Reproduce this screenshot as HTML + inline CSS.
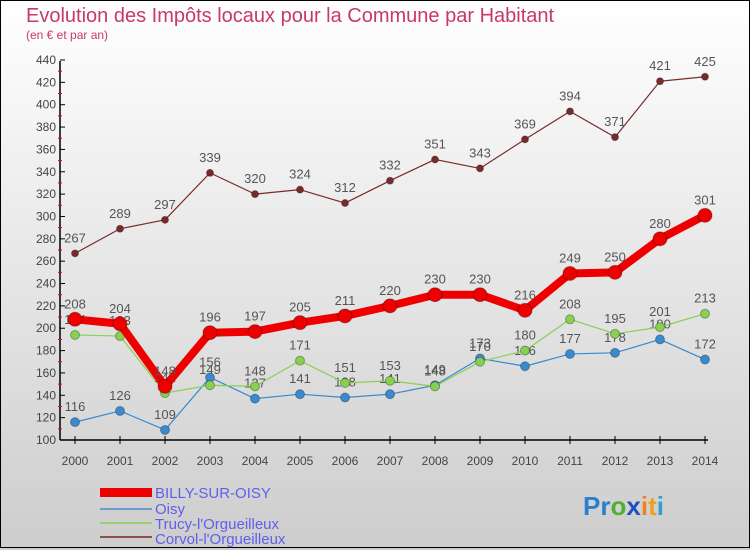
<!DOCTYPE html>
<html><head><meta charset="utf-8"><style>
body{margin:0}
#wrap{width:750px;height:550px;position:relative;overflow:hidden;font-family:"Liberation Sans",sans-serif}
svg text{font-family:"Liberation Sans",sans-serif}
</style></head><body>
<div id="wrap">
<svg id="chart" width="750" height="550">
<defs><linearGradient id="bg" x1="0" y1="0" x2="0" y2="1"><stop offset="0" stop-color="#ffffff"/><stop offset="1" stop-color="#cdcdcd"/></linearGradient></defs>
<rect x="0" y="0" width="750" height="550" fill="url(#bg)"/>
<rect x="0.5" y="0.5" width="749" height="547" fill="none" stroke="#000"/>
<text x="26" y="22" font-size="20" fill="#c8386a">Evolution des Impôts locaux pour la Commune par Habitant</text>
<text x="26" y="39" font-size="12" fill="#c8386a">(en € et par an)</text>
<g id="axes"></g><g id="series"></g>
<g id="legend">
<rect x="100" y="488" width="52" height="9" fill="#e00"/>
<text x="155" y="498" font-size="15" fill="#5f5fee">BILLY-SUR-OISY</text>
<rect x="100" y="508" width="52" height="2" fill="#6a9cc8"/>
<text x="155" y="514" font-size="15" fill="#5f5fee">Oisy</text>
<rect x="100" y="522" width="52" height="2" fill="#9ad070"/>
<text x="155" y="529" font-size="15" fill="#5f5fee">Trucy-l'Orgueilleux</text>
<rect x="100" y="536" width="52" height="2" fill="#8a5050"/>
<text x="155" y="544" font-size="15" fill="#5f5fee">Corvol-l'Orgueilleux</text>
</g>
<g font-size="26" font-weight="bold">
<text x="583" y="515"><tspan fill="#2a7fd0">Pr</tspan><tspan fill="#50b030">o</tspan><tspan fill="#2050c0">x</tspan><tspan fill="#f08020">i</tspan><tspan fill="#f0a020">t</tspan><tspan fill="#30a0d0">i</tspan></text>
</g>
</svg>
</div>
<script>
const years=["2000","2001","2002","2003","2004","2005","2006","2007","2008","2009","2010","2011","2012","2013","2014"];
const billy=[208,204,148,196,197,205,211,220,230,230,216,249,250,280,301];
const oisy=[116,126,109,156,137,141,138,141,149,173,166,177,178,190,172];
const trucy=[194,193,142,149,148,171,151,153,148,170,180,208,195,201,213];
const corvol=[267,289,297,339,320,324,312,332,351,343,369,394,371,421,425];
const yTicks=[100,120,140,160,180,200,220,240,260,280,300,320,340,360,380,400,420,440];
const NS="http://www.w3.org/2000/svg";
const xS=i=>75+i*45;
const yS=v=>440-(v-100)*380/340;
function mk(t,a,p){const e=document.createElementNS(NS,t);for(const k in a)e.setAttribute(k,a[k]);p.appendChild(e);return e;}
const ax=document.getElementById('axes');
let l=mk('line',{x1:60,y1:61,x2:60,y2:440,stroke:'#000','stroke-width':1.5},ax);


l=mk('line',{x1:60,y1:440,x2:708,y2:440,stroke:'#000','stroke-width':1.5},ax);


yTicks.forEach((v,i)=>{
  const y=yS(v);
  mk('line',{x1:60,y1:y,x2:65,y2:y,stroke:'#000'},ax);
  if(i<yTicks.length-1){mk('line',{x1:58,y1:yS(v+10),x2:62,y2:yS(v+10),stroke:'#e00'},ax);}
  const t=mk('text',{x:56,y:y+4,'font-size':12,'text-anchor':'end',fill:'#444'},ax);
  t.textContent=v;
  
  
});
years.forEach((yr,i)=>{
  const x=xS(i);
  mk('line',{x1:x,y1:436,x2:x,y2:444,stroke:'#000'},ax);
  const t=mk('text',{x:x,y:465,'font-size':12,'text-anchor':'middle',fill:'#444'},ax);
  t.textContent=yr;
  
  
});
const sg=document.getElementById('series');
function draw(data,name,color,w,r){
  const g=mk('g',{},sg);
  
  
  const pl=mk('polyline',{points:data.map((v,i)=>xS(i)+','+yS(v)).join(' '),fill:'none',stroke:color,'stroke-width':w,'stroke-linejoin':'round'},g);
  
  
  data.forEach((v,i)=>{
    const c=mk('circle',{cx:xS(i),cy:yS(v),r:r,fill:color,stroke:'rgba(0,0,0,0.3)','stroke-width':1},g);
    
    
    const t=mk('text',{x:xS(i),y:yS(v)-11,'font-size':13,'text-anchor':'middle',fill:'#555'},g);
    t.textContent=v;
    
    
  });
}
draw(corvol,'corvol','#7a2a2a',1.2,3.5);
draw(oisy,'oisy','#3a8ad0',1.2,4.5);
draw(trucy,'trucy','#88d050',1.2,4.5);
draw(billy,'billy','#ee0000',8,7);
</script>
</body></html>
